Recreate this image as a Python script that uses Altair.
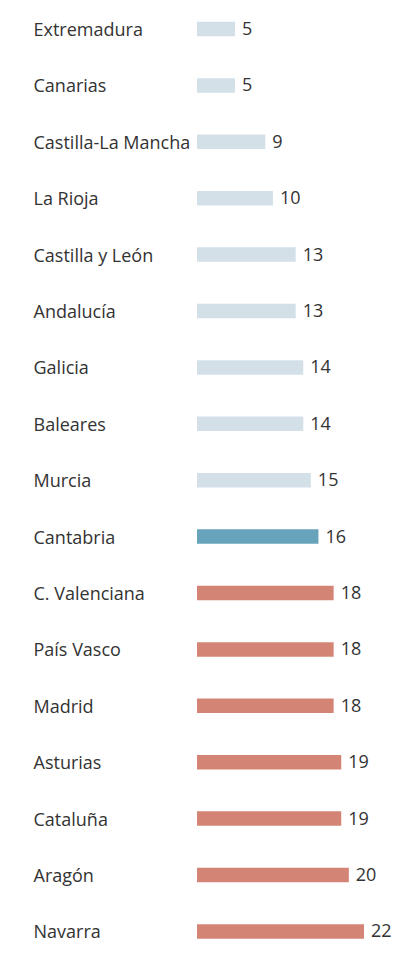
import altair as alt
import pandas as pd

regiones = ["Extremadura", "Canarias", "Castilla-La Mancha", "La Rioja", "Castilla y León",
            "Andalucía", "Galicia", "Baleares", "Murcia", "Cantabria", "C. Valenciana",
            "País Vasco", "Madrid", "Asturias", "Cataluña", "Aragón", "Navarra"]
valores = [5, 5, 9, 10, 13, 13, 14, 14, 15, 16, 18, 18, 18, 19, 19, 20, 22]
grupos = ["bajo"] * 9 + ["cantabria"] + ["alto"] * 7

df = pd.DataFrame({"region": regiones, "valor": valores, "grupo": grupos})

FONT = "Open Sans"
FS = 18

y_enc = alt.Y("region:N", sort=regiones,
              scale=alt.Scale(range=[-7.2, 951.6], paddingInner=0, paddingOuter=0, round=False),
              axis=alt.Axis(title=None, domain=False, ticks=False, labelAlign="left",
                            labelPadding=164, labelOffset=2, labelBaseline="middle",
                            labelFontSize=FS, labelFont=FONT, labelColor="#333333",
                            labelLimit=300))
x_enc = alt.X("valor:Q", scale=alt.Scale(domain=[0, 22], nice=False, zero=True), axis=None)

bars = alt.Chart(df).mark_bar(size=14.5).encode(
    y=y_enc, x=x_enc,
    color=alt.Color("grupo:N",
                    scale=alt.Scale(domain=["bajo", "cantabria", "alto"],
                                    range=["#d3e0e8", "#67a3bb", "#d48474"]),
                    legend=None),
)

texts = alt.Chart(df).mark_text(align="left", baseline="middle", dx=7, dy=1,
                                fontSize=FS, font=FONT, color="#333333").encode(
    y=alt.Y("region:N", sort=regiones), x=x_enc, text="valor:Q")

chart = alt.layer(bars, texts).properties(
    width=167, height=937,
    autosize=alt.AutoSizeParams(type="none"),
    padding={"left": 189, "top": 0, "right": 30, "bottom": 0},
).configure_view(stroke=None)

chart.save("out.html", embed_options={"renderer": "svg", "actions": False})
